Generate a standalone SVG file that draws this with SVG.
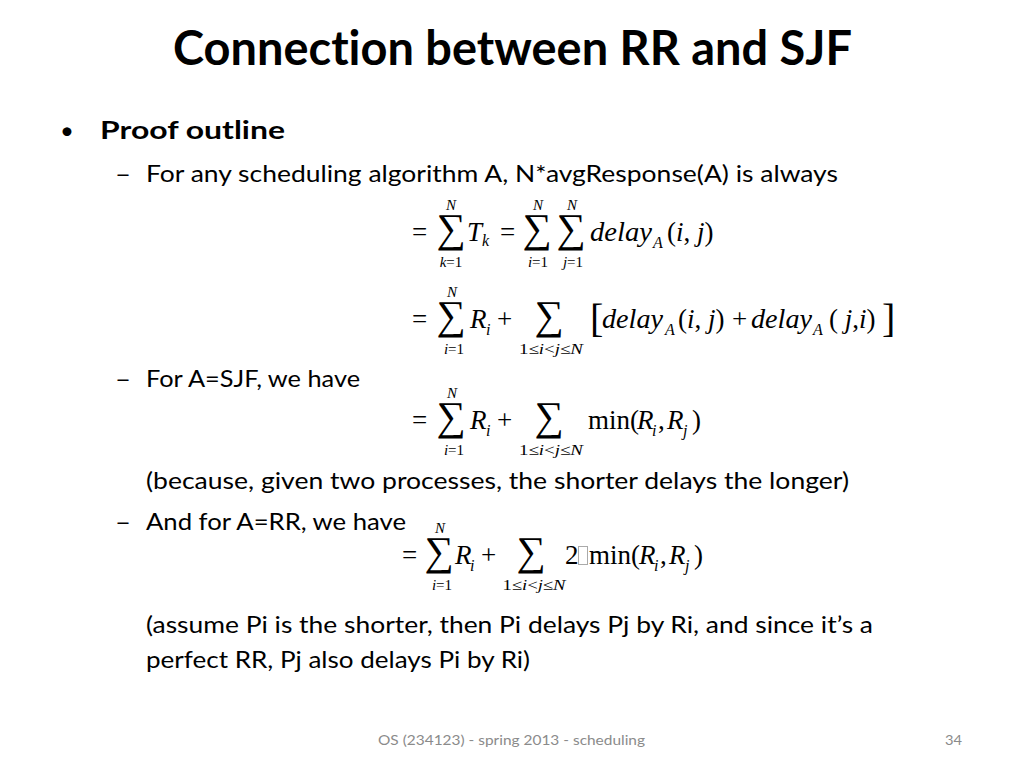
<svg xmlns="http://www.w3.org/2000/svg" width="1024" height="768" viewBox="0 0 1024 768">
<style>
text{font-variant-ligatures:none;font-feature-settings:"liga" 0}
.t{font-family:Lato,"Open Sans","Liberation Sans",sans-serif;font-size:24px;fill:#000}
.b{font-weight:bold}
.title{font-family:Lato,"Open Sans","Liberation Sans",sans-serif;font-weight:bold;font-size:48px;fill:#000}
.foot{font-family:Lato,"Open Sans","Liberation Sans",sans-serif;font-size:14px;fill:#8b8b8b}
.m{font-family:"Liberation Serif","Times New Roman",serif;font-size:27px;fill:#000}
.i{font-style:italic}
.sub{font-family:"Liberation Serif","Times New Roman",serif;font-size:16px;fill:#000}
.lim{font-family:"Liberation Serif","Times New Roman",serif;font-size:15px;fill:#000;text-anchor:middle}
.sig{font-family:"Liberation Serif","Times New Roman",serif;font-size:41px;fill:#000;text-anchor:middle}
.br{font-family:"Liberation Serif","Times New Roman",serif;font-size:40px;fill:#000}
</style>
<rect width="1024" height="768" fill="#fff"/>
<g id="title">
<text class="title" x="173" y="65" textLength="679" lengthAdjust="spacingAndGlyphs">Connection between RR and SJF</text>
</g>
<g id="body">
<text class="t" x="60" y="139">•</text>
<text class="t b" x="100" y="139" textLength="185" lengthAdjust="spacingAndGlyphs">Proof outline</text>
<text class="t" x="115" y="182" textLength="16" lengthAdjust="spacingAndGlyphs">–</text>
<text class="t" x="146" y="182" textLength="692" lengthAdjust="spacingAndGlyphs">For any scheduling algorithm A, N*avgResponse(A) is always</text>
<text class="t" x="115" y="387" textLength="16" lengthAdjust="spacingAndGlyphs">–</text>
<text class="t" x="146" y="387" textLength="214" lengthAdjust="spacingAndGlyphs">For A=SJF, we have</text>
<text class="t" x="146" y="489" textLength="703" lengthAdjust="spacingAndGlyphs">(because, given two processes, the shorter delays the longer)</text>
<text class="t" x="115" y="530" textLength="16" lengthAdjust="spacingAndGlyphs">–</text>
<text class="t" x="146" y="530" textLength="260" lengthAdjust="spacingAndGlyphs">And for A=RR, we have</text>
<text class="t" x="146" y="633" textLength="727" lengthAdjust="spacingAndGlyphs">(assume Pi is the shorter, then Pi delays Pj by Ri, and since it’s a</text>
<text class="t" x="146" y="668" textLength="384" lengthAdjust="spacingAndGlyphs">perfect RR, Pj also delays Pi by Ri)</text>
</g>
<g id="formula1">
<text class="m" x="412" y="241">=</text>
<text class="sig" x="451" y="242">∑</text>
<text class="lim i" x="451" y="210">N</text>
<text class="lim" x="451" y="267"><tspan font-style="italic">k</tspan>=1</text>
<text class="m i" x="467" y="241">T</text>
<text class="sub i" x="482" y="246">k</text>
<text class="m" x="500" y="241">=</text>
<text class="sig" x="537" y="242">∑</text>
<text class="lim i" x="538" y="210">N</text>
<text class="lim" x="538" y="267"><tspan font-style="italic">i</tspan>=1</text>
<text class="sig" x="571" y="242">∑</text>
<text class="lim i" x="572" y="210">N</text>
<text class="lim" x="573" y="267"><tspan font-style="italic">j</tspan>=1</text>
<text class="m i" x="590" y="241" textLength="62" lengthAdjust="spacingAndGlyphs">delay</text>
<text class="sub i" x="653" y="248">A</text>
<text class="m" x="667" y="241">(<tspan font-style="italic">i</tspan>, <tspan font-style="italic">j</tspan>)</text>
</g>
<g id="formula2">
<text class="m" x="412" y="328">=</text>
<text class="sig" x="451" y="329">∑</text>
<text class="lim i" x="452" y="297">N</text>
<text class="lim" x="454" y="354"><tspan font-style="italic">i</tspan>=1</text>
<text class="m i" x="470" y="328">R</text>
<text class="sub i" x="486" y="335">i</text>
<text class="m" x="497" y="328">+</text>
<text class="sig" x="549" y="329">∑</text>
<text class="lim" x="551" y="354" textLength="64" lengthAdjust="spacingAndGlyphs">1≤<tspan font-style="italic">i</tspan>&lt;<tspan font-style="italic">j</tspan>≤<tspan font-style="italic">N</tspan></text>
<text class="br" x="590" y="332">[</text>
<text class="m i" x="602" y="328" textLength="61" lengthAdjust="spacingAndGlyphs">delay</text>
<text class="sub i" x="665" y="335">A</text>
<text class="m" x="678" y="328">(<tspan font-style="italic">i</tspan>, <tspan font-style="italic">j</tspan>)</text>
<text class="m" x="732" y="328">+</text>
<text class="m i" x="751" y="328" textLength="61" lengthAdjust="spacingAndGlyphs">delay</text>
<text class="sub i" x="813" y="335">A</text>
<text class="m" x="829" y="328">( <tspan font-style="italic">j</tspan>,<tspan font-style="italic">i</tspan>)</text>
<text class="br" x="882" y="332">]</text>
</g>
<g id="formula3">
<text class="m" x="412" y="429">=</text>
<text class="sig" x="451" y="430">∑</text>
<text class="lim i" x="452" y="398">N</text>
<text class="lim" x="454" y="455"><tspan font-style="italic">i</tspan>=1</text>
<text class="m i" x="470" y="429">R</text>
<text class="sub i" x="486" y="436">i</text>
<text class="m" x="497" y="429">+</text>
<text class="sig" x="549" y="430">∑</text>
<text class="lim" x="551" y="455" textLength="64" lengthAdjust="spacingAndGlyphs">1≤<tspan font-style="italic">i</tspan>&lt;<tspan font-style="italic">j</tspan>≤<tspan font-style="italic">N</tspan></text>
<text class="m" x="588" y="429">min(</text>
<text class="m i" x="637" y="429">R</text>
<text class="sub i" x="652" y="436">i</text>
<text class="m" x="658" y="429">,</text>
<text class="m i" x="667" y="429">R</text>
<text class="sub i" x="683" y="436">j</text>
<text class="m" x="692" y="429">)</text>
</g>
<g id="formula4">
<text class="m" x="402" y="564">=</text>
<text class="sig" x="439" y="565">∑</text>
<text class="lim i" x="440" y="533">N</text>
<text class="lim" x="442" y="590"><tspan font-style="italic">i</tspan>=1</text>
<text class="m i" x="455" y="564">R</text>
<text class="sub i" x="470" y="571">i</text>
<text class="m" x="481" y="564">+</text>
<text class="sig" x="531" y="565">∑</text>
<text class="lim" x="534" y="590" textLength="63" lengthAdjust="spacingAndGlyphs">1≤<tspan font-style="italic">i</tspan>&lt;<tspan font-style="italic">j</tspan>≤<tspan font-style="italic">N</tspan></text>
<text class="m" x="565" y="564">2</text>
<rect x="578.5" y="546.5" width="9" height="18" fill="none" stroke="#aaa" stroke-width="1"/>
<text class="m" x="589" y="564">min(</text>
<text class="m i" x="639" y="564">R</text>
<text class="sub i" x="654" y="571">i</text>
<text class="m" x="660" y="564">,</text>
<text class="m i" x="669" y="564">R</text>
<text class="sub i" x="685" y="571">j</text>
<text class="m" x="694" y="564">)</text>
</g>
<g id="footer">
<text class="foot" x="378" y="745" textLength="267" lengthAdjust="spacingAndGlyphs">OS (234123) - spring 2013 - scheduling</text>
<text class="foot" x="945" y="745" textLength="17" lengthAdjust="spacingAndGlyphs">34</text>
</g>
</svg>
